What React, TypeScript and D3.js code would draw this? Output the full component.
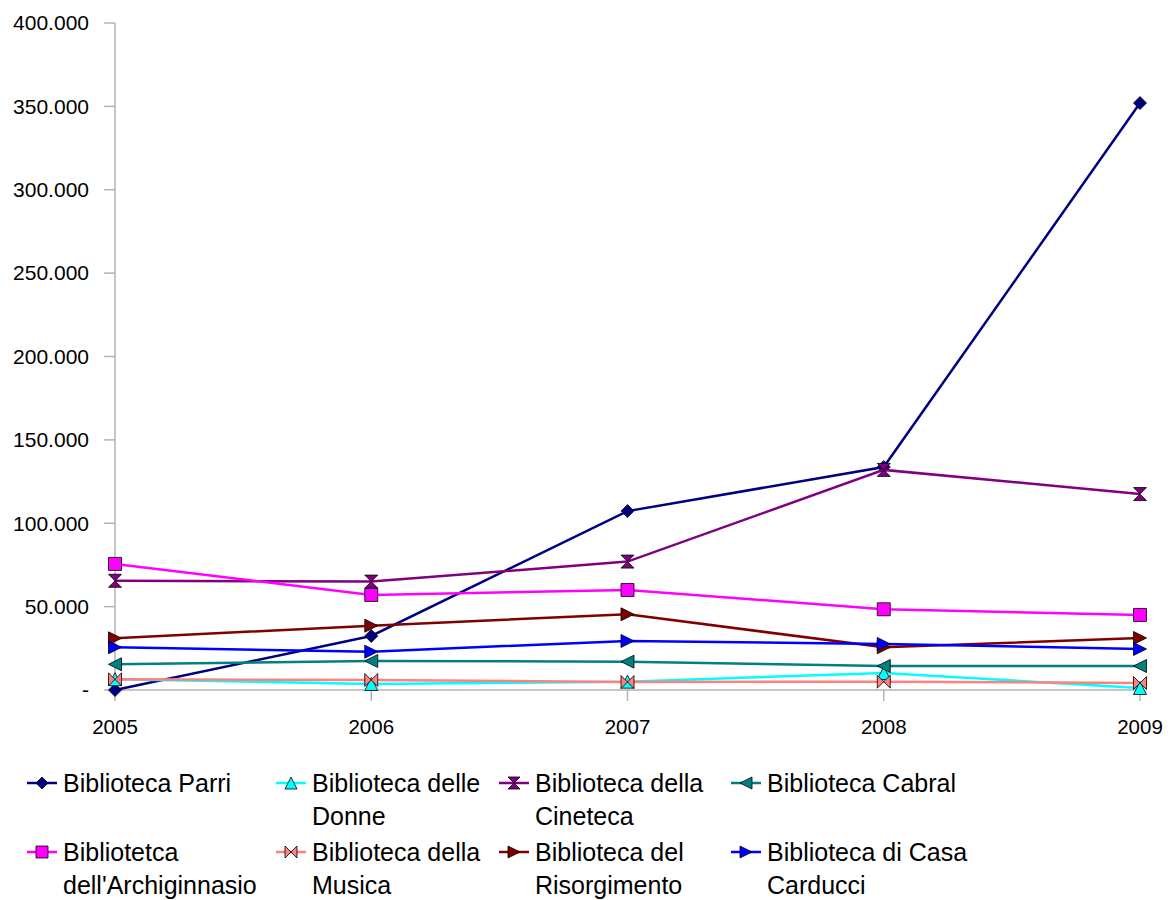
import * as d3 from "d3";

const years = [2005, 2006, 2007, 2008, 2009];

const parri = [0, 32400, 107300, 133700, 352000];
const donne = [6500, 3600, 5000, 10200, 1200];
const cineteca = [65500, 65000, 77000, 132000, 117500];
const cabral = [15400, 17400, 17000, 14400, 14400];
const archiginnasio = [75600, 57000, 60000, 48400, 45000];
const musica = [6400, 6000, 4800, 5000, 4200];
const risorgimento = [31000, 38600, 45400, 25600, 31200];
const carducci = [25600, 23000, 29400, 27600, 24600];

const yTicks = [0, 50000, 100000, 150000, 200000, 250000, 300000, 350000, 400000];

const series = [
  { lines: ["Biblioteca Parri"], values: parri, color: "#000080", shape: "diamond" },
  { lines: ["Biblioteca delle", "Donne"], values: donne, color: "#00ffff", shape: "up" },
  { lines: ["Biblioteca della", "Cineteca"], values: cineteca, color: "#800080", shape: "hourglass" },
  { lines: ["Biblioteca Cabral"], values: cabral, color: "#008080", shape: "left" },
  { lines: ["Bibliotetca", "dell'Archiginnasio"], values: archiginnasio, color: "#ff00ff", shape: "square" },
  { lines: ["Biblioteca della", "Musica"], values: musica, color: "#ff8080", shape: "bowtie" },
  { lines: ["Biblioteca del", "Risorgimento"], values: risorgimento, color: "#800000", shape: "right" },
  { lines: ["Biblioteca di Casa", "Carducci"], values: carducci, color: "#0000ff", shape: "right" },
];

const FONT = "'Liberation Sans', Arial, sans-serif";
const it = d3.formatLocale({ decimal: ",", thousands: ".", grouping: [3], currency: ["€", ""] });
const fmt = (v: number) => (v === 0 ? "-" : it.format(",")(v));

function markerPath(shape: string, s: number) {
  const h = s / 2;
  switch (shape) {
    case "diamond":
      return `M0,${-h}L${h},0L0,${h}L${-h},0Z`;
    case "up":
      return `M0,${-h}L${h},${h}L${-h},${h}Z`;
    case "left":
      return `M${-h},0L${h},${-h}L${h},${h}Z`;
    case "right":
      return `M${h},0L${-h},${-h}L${-h},${h}Z`;
    case "square":
      return `M${-h},${-h}H${h}V${h}H${-h}Z`;
    case "hourglass":
      return `M${-h},${-h}L${h},${-h}L${-h},${h}L${h},${h}Z`;
    case "bowtie":
      return `M${-h},${-h}L${-h},${h}L${h},${-h}L${h},${h}Z`;
  }
  return "";
}

export default function App() {
  const width = 1168;
  const height = 900;

  const x = d3.scalePoint<number>().domain(years).range([115, 1140]);
  const y = d3.scaleLinear().domain([0, 400000]).range([690, 23]);

  const line = d3
    .line<number>()
    .x((_, i) => x(years[i]) as number)
    .y((d) => y(d));

  const legendCols = [27, 276, 499, 731];
  const legendRows = [783, 852];

  return (
    <svg
      width={width}
      height={height}
      style={{ position: "absolute", left: 0, top: 0, background: "#fff" }}
      fontFamily={FONT}
    >
      <rect width={width} height={height} fill="#fff" />

      {/* axes */}
      <line x1={115} x2={115} y1={y(400000)} y2={y(0)} stroke="#b3b3b3" strokeWidth={1.5} />
      <line x1={115} x2={1140} y1={y(0)} y2={y(0)} stroke="#b3b3b3" strokeWidth={1.5} />
      {yTicks.map((t) => (
        <g key={t}>
          <line x1={104} x2={115} y1={y(t)} y2={y(t)} stroke="#b3b3b3" strokeWidth={1.5} />
          <text x={89} y={y(t)} dy="0.35em" textAnchor="end" fontSize={21} fill="#000">
            {fmt(t)}
          </text>
        </g>
      ))}
      {years.map((yr) => (
        <g key={yr}>
          <line x1={x(yr)} x2={x(yr)} y1={y(0)} y2={y(0) + 11} stroke="#b3b3b3" strokeWidth={1.5} />
          <text x={x(yr)} y={727} dy="0.35em" textAnchor="middle" fontSize={20.5} fill="#000">
            {yr}
          </text>
        </g>
      ))}

      {/* series */}
      {series.map((s, si) => (
        <g key={si}>
          <path d={line(s.values) || ""} fill="none" stroke={s.color} strokeWidth={2.5} />
          {s.values.map((v, i) => (
            <path
              key={i}
              transform={`translate(${x(years[i])},${y(v)})`}
              d={markerPath(s.shape, 13)}
              fill={s.color}
              stroke="#000"
              strokeWidth={0.8}
            />
          ))}
        </g>
      ))}

      {/* legend */}
      {series.map((s, si) => {
        const lx = legendCols[si % 4];
        const ly = legendRows[Math.floor(si / 4)];
        return (
          <g key={si}>
            <line x1={lx} x2={lx + 30} y1={ly} y2={ly} stroke={s.color} strokeWidth={2.5} />
            <path
              transform={`translate(${lx + 15},${ly})`}
              d={markerPath(s.shape, 12)}
              fill={s.color}
              stroke="#000"
              strokeWidth={0.8}
            />
            {s.lines.map((t, li) => (
              <text key={li} x={lx + 36} y={ly + li * 33} dy="0.35em" fontSize={25} fill="#000">
                {t}
              </text>
            ))}
          </g>
        );
      })}
    </svg>
  );
}
